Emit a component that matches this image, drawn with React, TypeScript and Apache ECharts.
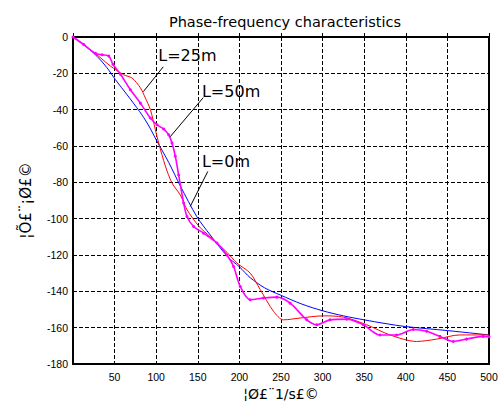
import React, { useEffect, useRef } from "react";
import * as echarts from "echarts";

const xTicks = [0, 50, 100, 150, 200, 250, 300, 350, 400, 450, 500];
const yTicks = [0, -20, -40, -60, -80, -100, -120, -140, -160, -180];

// L = 0m (blue)
const blueX = [0, 15, 29, 41, 51, 65, 80, 90, 100, 115, 129, 149, 165, 186, 200, 213, 230, 249, 275, 300, 325, 350, 375, 400, 450, 500];
const blueY = [0, -5, -10.7, -17, -23.5, -31.8, -41, -48, -56.6, -69, -82, -99, -109, -121, -126.5, -132.5, -138, -142, -147, -150.7, -153.5, -155.7, -157.7, -159.4, -161.6, -164];

// L = 25m (red)
const redX = [0, 15, 33, 45, 61, 71, 81, 87, 93, 99, 103, 111, 119, 129, 137, 151, 165, 173, 185, 197, 213, 225, 241, 253, 273, 301, 325, 353, 381, 413, 437, 465, 493, 500];
const redY = [0, -5, -11.4, -16, -20.8, -22.6, -28, -33.6, -40, -51, -58.4, -71, -80.4, -87, -95, -104, -110, -113.4, -118.5, -124.4, -130, -139, -151, -155.7, -154.7, -153.5, -154.2, -158.4, -164, -167.6, -166.3, -164, -164, -164];

// L = 50m (magenta)
const pinkX = [0, 13, 27, 35, 43, 48, 57, 69, 81, 93, 101, 109, 115, 119, 123, 127, 133, 137, 145, 157, 173, 185, 193, 201, 213, 229, 245, 261, 281, 293, 309, 329, 349, 369, 389, 409, 425, 441, 457, 473, 493, 500];
const pinkY = [0, -4.2, -9, -9.8, -10.5, -15, -20.5, -29, -36.4, -44.6, -48.3, -50.7, -53.8, -58.4, -65.7, -76, -91.4, -98.8, -104.3, -108, -113.4, -120, -126.3, -137.3, -144.6, -143.7, -143.2, -146.5, -155.7, -158.4, -155.7, -155.3, -158.4, -164, -164, -161, -162, -164.8, -167.6, -166.3, -164.8, -165];

const labels = ["L=25m", "L=50m", "L=0m"];
const labelPos = [[102.5, -10.3], [155, -30.1], [155, -68.5]];
const leaderLines = [
  [[84.5, -30.1], [108.5, -16.4]],
  [[116.8, -54.9], [156.5, -33.4]],
  [[140.9, -93.3], [162, -74]],
];

const zip = (xs: number[], ys: number[]) => xs.map((x, i) => [x, ys[i]]);
const FONT = "'Liberation Sans', Arial, sans-serif";
const WIDE = "'DejaVu Sans', Verdana, sans-serif";

export default function App() {
  const ref = useRef<HTMLDivElement>(null);
  useEffect(() => {
    if (!ref.current) return;
    const chart = echarts.init(ref.current, undefined, { renderer: "svg" });
    chart.setOption({
      animation: false,
      backgroundColor: "#fff",
      textStyle: { fontFamily: FONT },
      title: {
        text: "Phase-frequency characteristics",
        left: 280,
        textAlign: "center",
        top: 9,
        textStyle: { fontSize: 14.5, fontWeight: "normal", color: "#000", fontFamily: WIDE },
      },
      grid: {
        left: 73, top: 37, right: 9, bottom: 37,
        show: true, borderColor: "#000", borderWidth: 2, backgroundColor: "transparent",
        containLabel: false, outerBoundsMode: "none",
      },
      xAxis: {
        type: "value",
        min: 0,
        max: 500,
        interval: 50,
        name: "¦Ø£¨1/s£©",
        nameLocation: "middle",
        nameGap: 20,
        nameTextStyle: { fontSize: 14, color: "#000", fontFamily: WIDE },
        axisLine: { show: true, lineStyle: { color: "#000", width: 2 } },
        axisTick: { show: true, inside: true, length: 4, lineStyle: { color: "#000" } },
        axisLabel: {
          color: "#000",
          fontSize: 10.5,
          margin: 7,
          formatter: (v: number) => (xTicks.includes(v) && v !== 0 ? String(v) : ""),
        },
        splitLine: { show: true, lineStyle: { color: "#000", type: [4, 2], width: 1 } },
      },
      yAxis: {
        type: "value",
        min: -180,
        max: 0,
        interval: 20,
        name: "¦Õ£¨¡Ø£©",
        nameLocation: "middle",
        nameGap: 40,
        nameRotate: 90,
        nameTextStyle: { fontSize: 15, color: "#000", fontFamily: WIDE },
        axisLine: { show: true, lineStyle: { color: "#000", width: 2 } },
        axisTick: { show: true, inside: true, length: 4, lineStyle: { color: "#000" } },
        axisLabel: {
          color: "#000",
          fontSize: 10.5,
          margin: 5,
          formatter: (v: number) => (yTicks.includes(v) ? String(v) : ""),
        },
        splitLine: { show: true, lineStyle: { color: "#000", type: [4, 2], width: 1 } },
      },
      series: [
        {
          name: "L=0m",
          type: "line",
          data: zip(blueX, blueY),
          smooth: 0.3,
          showSymbol: false,
          lineStyle: { color: "#0000ff", width: 1 },
          z: 3,
        },
        {
          name: "L=25m",
          type: "line",
          data: zip(redX, redY),
          smooth: 0.3,
          showSymbol: false,
          lineStyle: { color: "#ff0000", width: 1 },
          z: 4,
        },
        {
          name: "L=50m",
          type: "line",
          data: zip(pinkX, pinkY),
          smooth: 0.3,
          showSymbol: true,
          symbol: "circle",
          symbolSize: 3,
          itemStyle: { color: "#ff00ff" },
          lineStyle: { color: "#ff00ff", width: 1.6 },
          z: 5,
        },
      ],
    });

    const px = (p: number[]) => chart.convertToPixel({ gridIndex: 0 }, p) as number[];
    const graphics: any[] = [];
    labels.forEach((t, i) => {
      const [x, y] = px(labelPos[i]);
      graphics.push({
        type: "text",
        x,
        y,
        style: { text: t, fill: "#000", font: `16px ${WIDE}`, textVerticalAlign: "middle", textAlign: "left" },
        z: 10,
      });
      const [a, b] = leaderLines[i];
      const [x1, y1] = px(a);
      const [x2, y2] = px(b);
      graphics.push({
        type: "line",
        shape: { x1, y1, x2, y2 },
        style: { stroke: "#000", lineWidth: 1 },
        z: 10,
      });
    });
    chart.setOption({ graphic: graphics });

    return () => chart.dispose();
  }, []);
  return <div ref={ref} style={{ width: 498, height: 401, position: "absolute", left: 0, top: 0 }} />;
}
